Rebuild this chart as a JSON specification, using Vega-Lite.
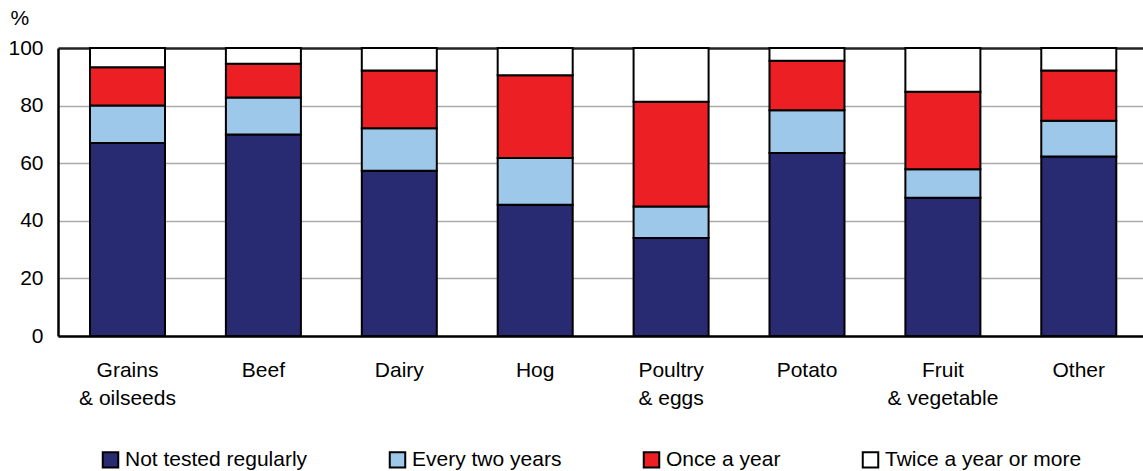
{
  "$schema": "https://vega.github.io/schema/vega-lite/v6.json",
  "autosize": "none",
  "width": 1085,
  "height": 288,
  "padding": {"left": 58, "top": 48, "right": 0, "bottom": 135},
  "background": "white",
  "config": {
    "font": "Liberation Sans",
    "view": {"stroke": null}
  },
  "data": {
    "values": [
      {"sector": "Grains|& oilseeds", "freq": "Not tested regularly", "ord": 1, "pct": 67},
      {"sector": "Grains|& oilseeds", "freq": "Every two years", "ord": 2, "pct": 13},
      {"sector": "Grains|& oilseeds", "freq": "Once a year", "ord": 3, "pct": 13.3},
      {"sector": "Grains|& oilseeds", "freq": "Twice a year or more", "ord": 4, "pct": 6.7},
      {"sector": "Beef", "freq": "Not tested regularly", "ord": 1, "pct": 70},
      {"sector": "Beef", "freq": "Every two years", "ord": 2, "pct": 12.8},
      {"sector": "Beef", "freq": "Once a year", "ord": 3, "pct": 11.7},
      {"sector": "Beef", "freq": "Twice a year or more", "ord": 4, "pct": 5.5},
      {"sector": "Dairy", "freq": "Not tested regularly", "ord": 1, "pct": 57.4},
      {"sector": "Dairy", "freq": "Every two years", "ord": 2, "pct": 14.7},
      {"sector": "Dairy", "freq": "Once a year", "ord": 3, "pct": 20.1},
      {"sector": "Dairy", "freq": "Twice a year or more", "ord": 4, "pct": 7.8},
      {"sector": "Hog", "freq": "Not tested regularly", "ord": 1, "pct": 45.6},
      {"sector": "Hog", "freq": "Every two years", "ord": 2, "pct": 16.2},
      {"sector": "Hog", "freq": "Once a year", "ord": 3, "pct": 28.7},
      {"sector": "Hog", "freq": "Twice a year or more", "ord": 4, "pct": 9.5},
      {"sector": "Poultry|& eggs", "freq": "Not tested regularly", "ord": 1, "pct": 34},
      {"sector": "Poultry|& eggs", "freq": "Every two years", "ord": 2, "pct": 11},
      {"sector": "Poultry|& eggs", "freq": "Once a year", "ord": 3, "pct": 36.3},
      {"sector": "Poultry|& eggs", "freq": "Twice a year or more", "ord": 4, "pct": 18.7},
      {"sector": "Potato", "freq": "Not tested regularly", "ord": 1, "pct": 63.5},
      {"sector": "Potato", "freq": "Every two years", "ord": 2, "pct": 14.9},
      {"sector": "Potato", "freq": "Once a year", "ord": 3, "pct": 17.2},
      {"sector": "Potato", "freq": "Twice a year or more", "ord": 4, "pct": 4.4},
      {"sector": "Fruit|& vegetable", "freq": "Not tested regularly", "ord": 1, "pct": 48},
      {"sector": "Fruit|& vegetable", "freq": "Every two years", "ord": 2, "pct": 9.9},
      {"sector": "Fruit|& vegetable", "freq": "Once a year", "ord": 3, "pct": 26.9},
      {"sector": "Fruit|& vegetable", "freq": "Twice a year or more", "ord": 4, "pct": 15.2},
      {"sector": "Other", "freq": "Not tested regularly", "ord": 1, "pct": 62.3},
      {"sector": "Other", "freq": "Every two years", "ord": 2, "pct": 12.4},
      {"sector": "Other", "freq": "Once a year", "ord": 3, "pct": 17.5},
      {"sector": "Other", "freq": "Twice a year or more", "ord": 4, "pct": 7.8}
    ]
  },
  "mark": {"type": "bar", "stroke": "black", "strokeWidth": 2},
  "encoding": {
    "x": {
      "field": "sector",
      "type": "nominal",
      "sort": null,
      "scale": {"paddingInner": 0.448, "paddingOuter": 0.216, "align": 0.545},
      "axis": {
        "title": null,
        "labelExpr": "split(datum.label, '|')",
        "labelAngle": 0,
        "labelFontSize": 21,
        "labelColor": "black",
        "labelLineHeight": 28,
        "labelPadding": 23,
        "ticks": false,
        "domainColor": "black",
        "domainWidth": 2.5
      }
    },
    "y": {
      "field": "pct",
      "type": "quantitative",
      "stack": "zero",
      "scale": {"domain": [0, 100], "nice": false},
      "axis": {
        "title": "%",
        "titleAngle": 0,
        "titleAlign": "left",
        "titleBaseline": "middle",
        "titleX": -48,
        "titleY": -30,
        "titleFontSize": 21,
        "titleFontWeight": "normal",
        "titleColor": "black",
        "values": [0, 20, 40, 60, 80, 100],
        "labelFontSize": 21,
        "labelColor": "black",
        "labelPadding": 15,
        "ticks": false,
        "domainColor": "black",
        "domainWidth": 2.5,
        "grid": true,
        "gridColor": {"condition": {"test": "datum.value === 100", "value": "#222222"}, "value": "#aaaaaa"},
        "gridWidth": {"condition": {"test": "datum.value === 100", "value": 2.5}, "value": 1.5}
      }
    },
    "color": {
      "field": "freq",
      "type": "nominal",
      "sort": ["Not tested regularly", "Every two years", "Once a year", "Twice a year or more"],
      "scale": {
        "domain": ["Not tested regularly", "Every two years", "Once a year", "Twice a year or more"],
        "range": ["#282A72", "#9DC8EA", "#EC2024", "#FFFFFF"]
      },
      "legend": {
        "title": null,
        "orient": "none",
        "legendX": 42,
        "legendY": 401,
        "direction": "horizontal",
        "columns": 4,
        "columnPadding": 77,
        "symbolType": "square",
        "symbolSize": 240,
        "symbolStrokeColor": "black",
        "symbolStrokeWidth": 2,
        "symbolOpacity": 1,
        "labelFontSize": 21,
        "labelColor": "black",
        "labelOffset": 4,
        "labelLimit": 300
      }
    },
    "order": {"field": "ord", "type": "quantitative"}
  }
}
